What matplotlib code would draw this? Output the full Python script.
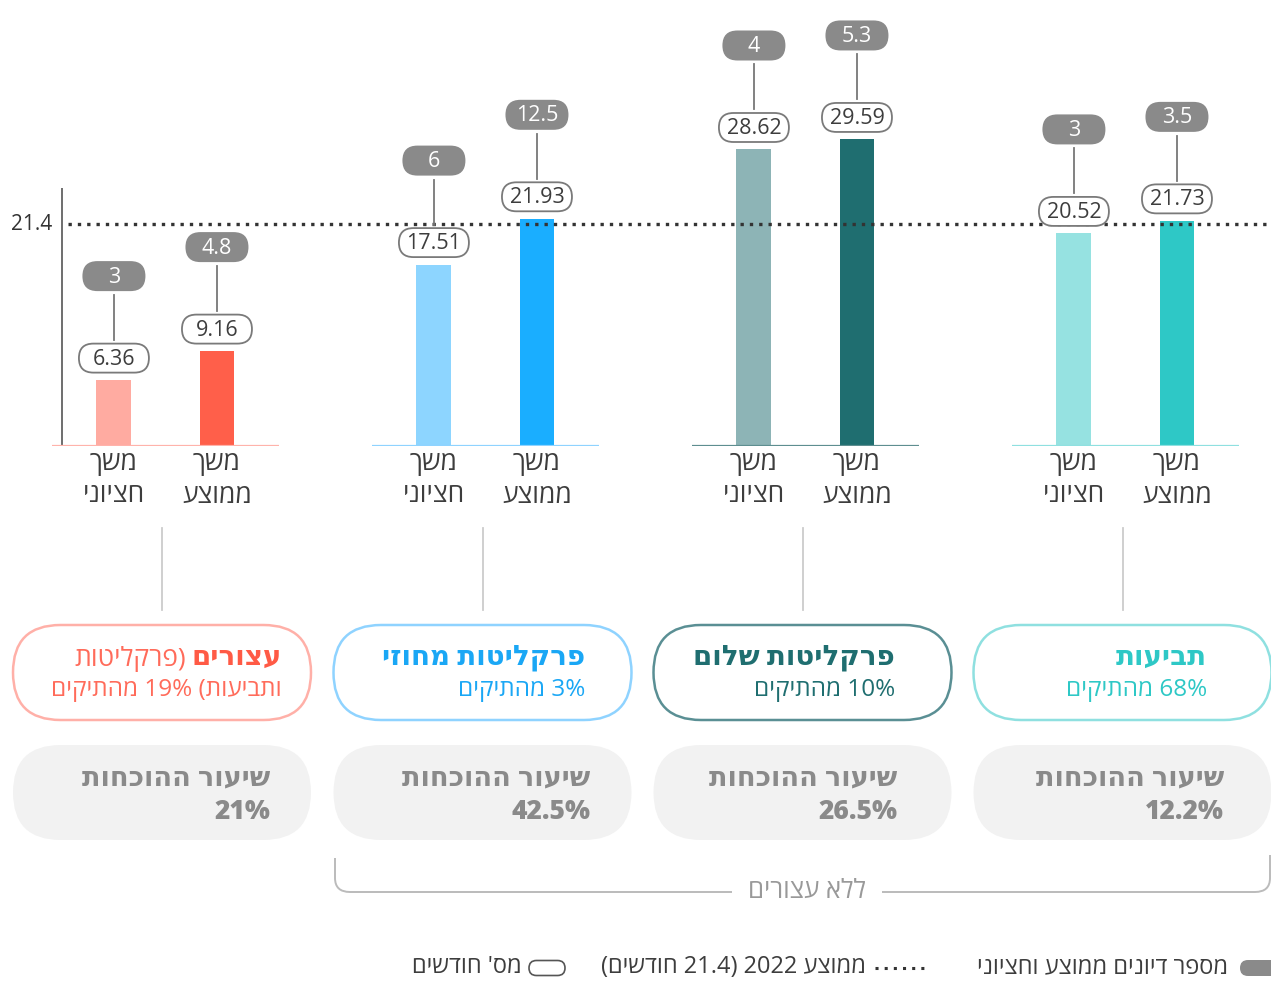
import re
import matplotlib
matplotlib.use("Agg")
import matplotlib.pyplot as plt
from matplotlib.patches import FancyBboxPatch
from matplotlib.path import Path
from matplotlib.patches import PathPatch

plt.rcParams['font.family'] = ['Open Sans', 'DejaVu Sans']

# Data (months / hearings per group), groups drawn left to right
groups = ["עצורים", "פרקליטות מחוזי", "פרקליטות שלום", "תביעות"]
group_sub = ["ותביעות) 19% מהתיקים", "3% מהתיקים", "10% מהתיקים", "68% מהתיקים"]
median_months = [6.36, 17.51, 28.62, 20.52]
mean_months = [9.16, 21.93, 29.59, 21.73]
median_hearings = [3, 6, 4, 3]
mean_hearings = [4.8, 12.5, 5.3, 3.5]
conviction_rate = ["21%", "42.5%", "26.5%", "12.2%"]
avg_2022 = 21.4
bar_labels = [["משך", "חציוני"], ["משך", "ממוצע"]]

# Colours per group
light_colors = ["#ffaba1", "#8dd5ff", "#8db4b6", "#96e2e1"]
dark_colors = ["#ff5f4a", "#1aaeff", "#1f6e70", "#2ec8c6"]
base_colors = ["#ffb3ab", "#8fd3ff", "#5e8e90", "#8fe0e0"]
edge_colors = ["#ffb0a8", "#8fd3ff", "#5a8f94", "#8fe0e0"]
title_colors = ["#ff5a45", "#1aa7f5", "#1f6e70", "#2ec8c6"]

W, H = 1271, 981
TXT = "#3d3d3d"
GRAY = "#8a8a8a"


def vis(s):
    # logical Hebrew -> visual (left to right) order
    r = s[::-1]
    r = re.sub(r"[0-9%][0-9.%]*", lambda m: m.group(0)[::-1], r)
    return r.translate(str.maketrans("()", ")("))


fig = plt.figure(figsize=(W / 100, H / 100), dpi=100)
fig.patch.set_facecolor("white")

# bar axes: baseline at y=446px, 10.36 px per month
base_y = 446
px_per = 10.36
ymax = 35
ax = fig.add_axes([0, (H - base_y) / H, 1, ymax * px_per / H])
ax.set_xlim(-0.517, -0.517 + W / 320)
ax.set_ylim(0, ymax)
ax.axis("off")

# overlay in pixel coordinates (y down)
ov = fig.add_axes([0, 0, 1, 1], zorder=3)
ov.set_xlim(0, W)
ov.set_ylim(H, 0)
ov.axis("off")
ov.patch.set_alpha(0)


def to_px(x, y):
    return ov.transData.inverted().transform(ax.transData.transform((x, y)))


def pill(cx, cy, w, h, fc, ec, lw, z=4):
    ov.add_patch(FancyBboxPatch((cx - w / 2, cy - h / 2), w, h,
                                boxstyle=f"round,pad=0,rounding_size={h / 2}",
                                fc=fc, ec=ec, lw=lw, zorder=z))


off = 0.161
bw = 0.109
for i in range(len(groups)):
    xs = [i - off, i + off]
    vals = [median_months[i], mean_months[i]]
    hears = [median_hearings[i], mean_hearings[i]]
    ax.bar(xs, vals, width=bw, color=[light_colors[i], dark_colors[i]], zorder=2)
    ax.hlines(0, i - 0.355, i + 0.355, color=base_colors[i], lw=1.6, zorder=3)

    for j in range(2):
        px, py = to_px(xs[j], vals[j])
        vy = py - 22
        gy = vy - 82
        ov.plot([px, px], [gy + 19, vy - 18], color="#777777", lw=1.3, zorder=3)
        pill(px, vy, 70, 29, "white", "#7a7a7a", 1.3)
        ov.text(px, vy + 1, f"{vals[j]:g}", ha="center", va="center",
                fontsize=15.5, color=TXT, zorder=5)
        pill(px, gy, 63, 30, GRAY, "none", 0)
        ov.text(px, gy + 1, f"{hears[j]:g}", ha="center", va="center",
                fontsize=15.5, color="white", zorder=5)
        bx, _ = to_px(xs[j], 0)
        ov.text(bx, 464, vis(bar_labels[j][0]), ha="center", va="center",
                fontsize=19, color=TXT)
        ov.text(bx, 496, vis(bar_labels[j][1]), ha="center", va="center",
                fontsize=19, color=TXT)

# y axis line and 2022 average
ax.vlines(-0.323, 0, 24.9, color="#555555", lw=1.2)
ax.axhline(avg_2022, xmin=68 / W, xmax=1, color="#333333", lw=2.4,
           linestyle=(0, (1, 1.8)), zorder=4)
_, ly = to_px(0, avg_2022)
ov.text(32, ly, "21.4", ha="center", va="center", fontsize=15, color="#333333")

# group boxes
pill_cx = [162, 482.5, 802.5, 1122.5]
title_right = [282, 585, 895, 1207]
rate_right = [270, 590, 897, 1224]
for i in range(len(groups)):
    ov.plot([pill_cx[i], pill_cx[i]], [528, 610], color="#cccccc", lw=1.3)
    pill(pill_cx[i], 672.5, 298, 95, "white", edge_colors[i], 1.8, z=2)
    t = ov.text(title_right[i], 657, vis(groups[i]), ha="right", va="center",
                fontsize=20, fontweight="bold", color=title_colors[i])
    if i == 0:
        ov.annotate(vis("(פרקליטות"), xy=(0, 0), xycoords=t, xytext=(-6, 0),
                    textcoords="offset pixels", ha="right", va="bottom",
                    fontsize=19, color="#ff6b5a")
    ov.text(title_right[i], 690, vis(group_sub[i]), ha="right", va="center",
            fontsize=17.5, color=title_colors[i] if i else "#ff6b5a")

    pill(pill_cx[i], 792.5, 298, 95, "#f2f2f2", "none", 0, z=2)
    ov.text(rate_right[i], 779, vis("שיעור ההוכחות"), ha="right", va="center",
            fontsize=19.5, fontweight="bold", color=GRAY)
    ov.text(rate_right[i], 812, conviction_rate[i], ha="right", va="center",
            fontsize=19, fontweight=800, color=GRAY)

# bracket "without detainees"
br = "#bbbbbb"
codes = [Path.MOVETO, Path.LINETO, Path.CURVE3, Path.CURVE3, Path.LINETO]
for verts in ([(335, 858), (335, 878), (335, 892), (350, 892), (732, 892)],
              [(882, 892), (1255, 892), (1270, 892), (1270, 878), (1270, 855)]):
    ov.add_patch(PathPatch(Path(verts, codes), fc="none", ec=br, lw=1.4))
ov.text(807, 891, vis("ללא עצורים"), ha="center", va="center",
        fontsize=18.5, color="#999999")

# legend
pill(1262, 968, 44, 16, GRAY, "none", 0)
ov.text(1228, 967, vis("מספר דיונים ממוצע וחציוני"), ha="right", va="center",
        fontsize=17, color=TXT)
ov.plot([875, 926], [968, 968], color="#333333", lw=2.2, linestyle=(0, (1, 2)))
ov.text(866, 967, vis("ממוצע 2022 (21.4 חודשים)"), ha="right", va="center",
        fontsize=17, color=TXT)
pill(547, 968, 36, 15, "white", "#555555", 1.2)
ov.text(522, 967, vis("מס' חודשים"), ha="right", va="center",
        fontsize=17, color=TXT)

fig.savefig("out.png", dpi=100, facecolor="white")
